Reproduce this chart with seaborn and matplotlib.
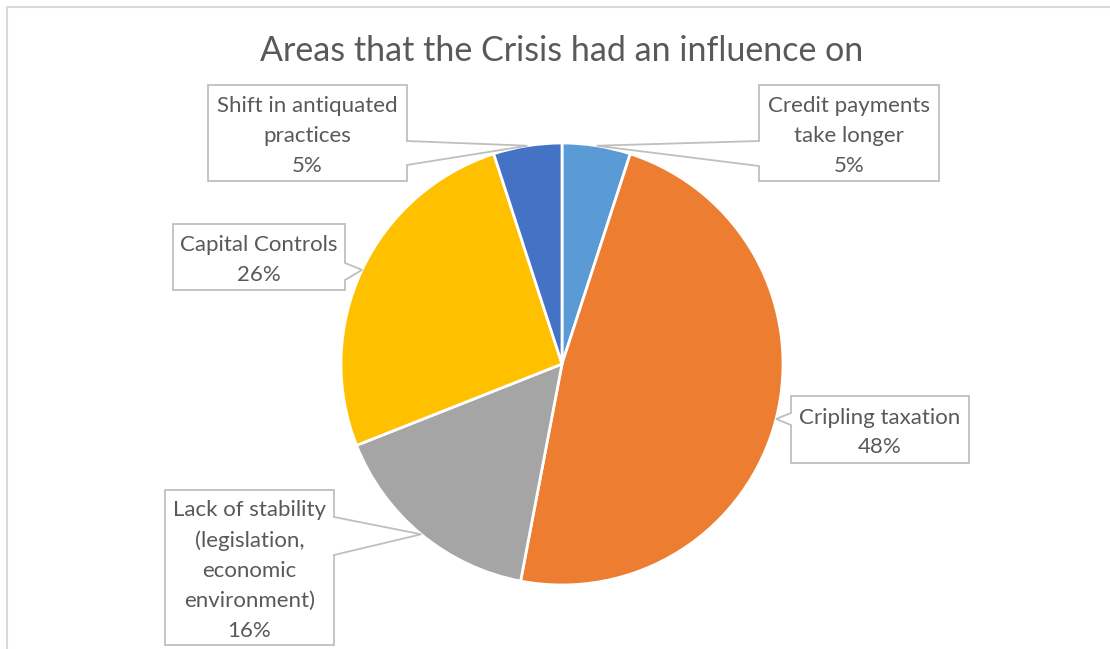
import matplotlib
matplotlib.use("Agg")
import matplotlib.pyplot as plt
from matplotlib.patches import Polygon
import numpy as np
import seaborn as sns

# data
title = "Areas that the Crisis had an influence on"
categories = ["Credit payments\ntake longer", "Cripling taxation",
              "Lack of stability\n(legislation,\neconomic\nenvironment)",
              "Capital Controls", "Shift in antiquated\npractices"]
shares = [5, 48, 16, 26, 5]
slice_colors = ["#5B9BD5", "#ED7D31", "#A5A5A5", "#FFC000", "#4472C4"]

sns.set_theme(style="white")
plt.rcParams["font.family"] = ["Lato", "DejaVu Sans"]

W, H = 1110, 649
fig = plt.figure(figsize=(W / 100, H / 100), dpi=100)
ax = fig.add_axes([0, 0, 1, 1])

# pie placed in pixel space (y measured from bottom)
cx, cy, r = 562, H - 364, 221
wedges, _ = ax.pie(shares, colors=sns.color_palette(slice_colors),
                   startangle=90, counterclock=False,
                   center=(cx, cy), radius=r,
                   wedgeprops=dict(edgecolor="white", linewidth=2))
ax.set_xlim(0, W)
ax.set_ylim(0, H)
ax.set_aspect("equal")
ax.axis("off")

# outer chart frame (only top and left visible in the crop)
ax.plot([7, 7, W], [0, H - 7, H - 7], color="#D9D9D9", lw=1.5,
        solid_capstyle="butt", clip_on=False)

ax.text(562, H - 51, title, ha="center", va="center",
        fontsize=24.5, color="#595959")

# callout boxes: left, top, right, bottom, pointer side, pointer base (pixels from top)
boxes = [
    (759, 85, 939, 181, "left", 141, 166),
    (791, 396, 969, 463, "left", 413, 425),
    (165, 490, 334, 645, "right", 517, 555),
    (173, 224, 345, 290, "right", 263, 280),
    (208, 85, 407, 181, "right", 141, 165),
]

total = sum(shares)
for w, cat, val, (l, t, rr, b, side, b1, b2) in zip(wedges, categories, shares, boxes):
    mid = np.deg2rad((w.theta1 + w.theta2) / 2)
    tip = (cx + r * np.cos(mid), cy + r * np.sin(mid))
    T, B, B1, B2 = H - t, H - b, H - b1, H - b2
    if side == "left":
        pts = [(l, T), (rr, T), (rr, B), (l, B), (l, B2), tip, (l, B1)]
    else:
        pts = [(l, T), (rr, T), (rr, B1), tip, (rr, B2), (rr, B), (l, B)]
    ax.add_patch(Polygon(pts, closed=True, facecolor="white",
                         edgecolor="#BFBFBF", lw=1.3, zorder=3))
    pct = round(val / total * 100)
    ax.text((l + rr) / 2, (T + B) / 2 - 3, f"{cat}\n{pct}%", ha="center", va="center",
            multialignment="center", fontsize=16, color="#595959",
            linespacing=1.62, zorder=4)

fig.savefig("out.png", dpi=100, facecolor="white")
